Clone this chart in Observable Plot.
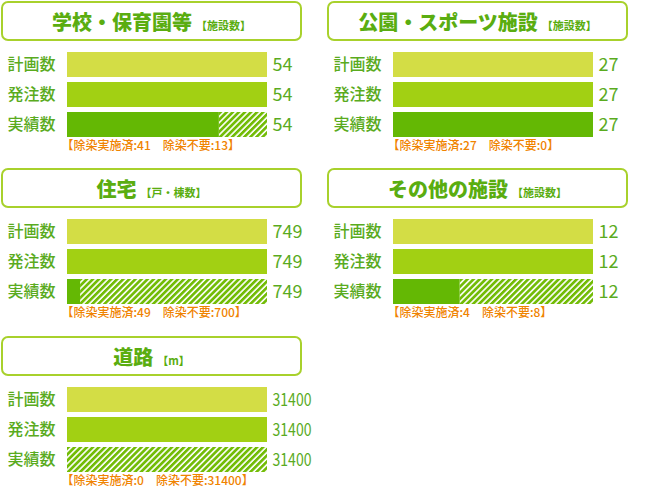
<!DOCTYPE html>
<html><head><meta charset="utf-8">
<script src="https://cdn.jsdelivr.net/npm/d3@7"></script>
<script src="https://cdn.jsdelivr.net/npm/@observablehq/plot@0.6"></script>
<style>
body{margin:0;background:#fff;}
#chart{position:relative;width:650px;height:488px;overflow:hidden;font-family:"Noto Sans CJK JP",sans-serif;}
.panel{position:absolute;width:326px;height:160px;}
.tbox{position:absolute;left:1px;top:1px;width:301px;height:40px;box-sizing:border-box;border:2px solid #a8d12c;border-radius:7px;text-align:center;line-height:37px;white-space:nowrap;}
.t{font-size:20px;font-weight:900;color:#5aad10;}
.u{font-size:11px;font-weight:700;color:#5aad10;margin-left:4px;}
.panel svg{position:absolute;left:0;top:45px;}
</style>
</head><body>
<div id="chart"></div>
<script>
const panelTitles = ["学校・保育園等","公園・スポーツ施設","住宅","その他の施設","道路"];
const panelUnits = ["【施設数】","【施設数】","【戸・棟数】","【施設数】","【m】"];
const rowLabels = ["計画数","発注数","実績数"];
const planned = [54, 27, 749, 12, 31400];
const ordered = [54, 27, 749, 12, 31400];
const actual = [54, 27, 749, 12, 31400];
const decontaminated = [41, 27, 49, 4, 0];
const notRequired = [13, 0, 700, 8, 31400];

const barColors = ["#d3dd45", "#a2d013", "#64b804"];
const hatchColor = "#72bc06";
const textGreen = "#5aab1e";
const noteOrange = "#f08300";
const panelLeft = [0, 326, 0, 326, 0];
const panelTop = [0, 0, 167, 167, 335];

const chart = document.getElementById("chart");

panelTitles.forEach((title, i) => {
  const panel = document.createElement("div");
  panel.className = "panel";
  panel.style.left = panelLeft[i] + "px";
  panel.style.top = panelTop[i] + "px";
  const box = document.createElement("div");
  box.className = "tbox";
  box.innerHTML = `<span class="t">${title}</span><span class="u">${panelUnits[i]}</span>`;
  panel.appendChild(box);

  const values = [planned[i], ordered[i], actual[i]];
  const bars = [
    {row: rowLabels[0], start: 0, end: planned[i], fill: barColors[0]},
    {row: rowLabels[1], start: 0, end: ordered[i], fill: barColors[1]},
    {row: rowLabels[2], start: 0, end: decontaminated[i], fill: barColors[2]}
  ];
  const hatch = [{row: rowLabels[2], start: decontaminated[i], end: actual[i]}];
  const labels = rowLabels.map((r, k) => ({row: r, v: values[k]}));
  const note = [{row: rowLabels[2], text: `【除染実施済:${decontaminated[i]}　除染不要:${notRequired[i]}】`}];

  const svg = Plot.plot({
    width: 326, height: 112,
    marginLeft: 67, marginRight: 59, marginTop: 0, marginBottom: 0,
    style: {fontFamily: "'Noto Sans CJK JP', sans-serif", background: "transparent"},
    x: {domain: [0, planned[i]], range: [67, 267], axis: null},
    y: {domain: rowLabels, range: [4.5, 94.5], paddingInner: 1/6, paddingOuter: 1/12, axis: null},
    color: {type: "identity"},
    marks: [
      Plot.barX(hatch, {x1: "start", x2: "end", y: "row", fill: `url(#hatch${i})`}),
      Plot.barX(bars, {x1: "start", x2: "end", y: "row", fill: "fill"}),
      Plot.text(labels, {x: "v", y: "row", text: d => String(d.v), textAnchor: "start", dx: 5, fill: textGreen, fontSize: 18}),
      Plot.text(rowLabels, {y: d => d, text: d => d, frameAnchor: "left", textAnchor: "start", dx: -60, fill: textGreen, fontSize: 16, fontWeight: 500, letterSpacing: 1.5}),
      Plot.text(note, {y: "row", text: "text", frameAnchor: "left", textAnchor: "start", dx: -6, dy: 21.5, fill: noteOrange, fontSize: 12, fontWeight: 500})
    ]
  });
  const defs = d3.select(svg).insert("defs", ":first-child");
  const pat = defs.append("pattern").attr("id", "hatch" + i)
    .attr("patternUnits", "userSpaceOnUse").attr("width", 4.3).attr("height", 4.3)
    .attr("patternTransform", "rotate(45)");
  pat.append("rect").attr("width", 4.3).attr("height", 4.3).attr("fill", "#fff");
  pat.append("rect").attr("width", 2.7).attr("height", 4.3).attr("fill", hatchColor);
  d3.select(svg).selectAll("text").filter(function() { return /^\d{5,}$/.test(this.textContent); })
    .attr("textLength", 39).attr("lengthAdjust", "spacingAndGlyphs");
  panel.appendChild(svg);
  chart.appendChild(panel);
});
</script>
</body></html>
